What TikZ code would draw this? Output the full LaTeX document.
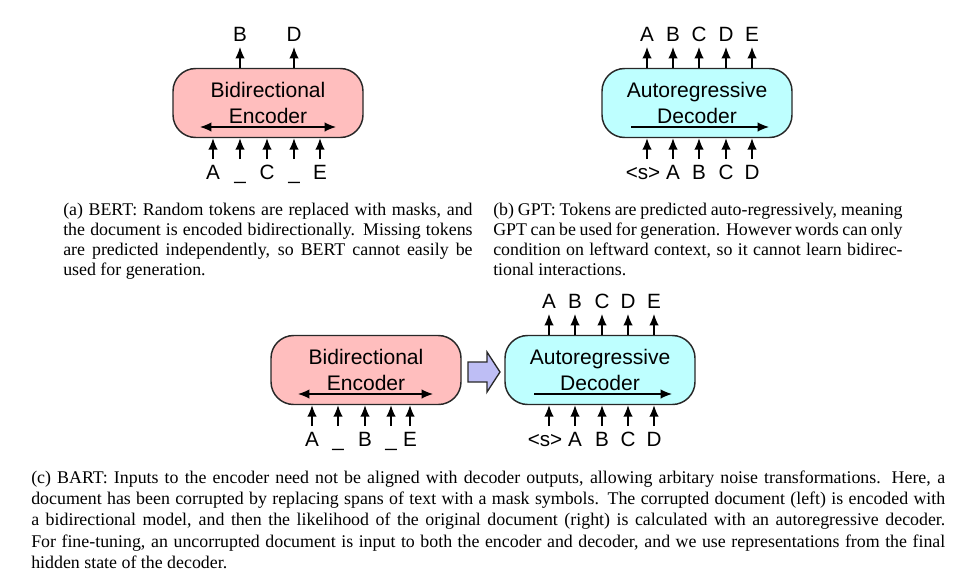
\documentclass[tikz,border=0pt]{standalone}
\usepackage{fontspec}
\setmainfont{Liberation Serif}
\setsansfont{Liberation Sans}
\usepackage{tikz}
\usetikzlibrary{arrows.meta}
\definecolor{encpink}{RGB}{255,190,190}
\definecolor{deccyan}{RGB}{190,255,255}
\definecolor{flowblue}{RGB}{190,190,245}
\definecolor{edgegray}{RGB}{40,40,40}
\tikzset{
    every edge/.style={
        draw,
        ->,>={Latex[length=8.5pt,width=7pt]},
        line width=0.9pt
    },
    block/.style={
        draw=edgegray, line width=1.1pt, rounded corners=17pt,
        minimum width=142.5pt, minimum height=51.75pt, align=center,
        font=\sffamily\fontsize{15.8}{19}\selectfont
    },
    encoder/.style={block, fill=encpink},
    decoder/.style={block, fill=deccyan},
    tok/.style={
        font=\sffamily\fontsize{15.5}{18}\selectfont,
        inner xsep=0pt, inner ysep=4pt, text height=11.1pt, text depth=0pt
    },
    caption/.style={
        inner sep=0pt, anchor=base west, text width=307pt, align=justify,
        font=\fontsize{13.4}{15}\selectfont
    },
    flow/.style={draw=edgegray, fill=flowblue, line width=1pt, line join=miter}
}

\begin{document}
\begin{tikzpicture}[x=0.75pt,y=-0.75pt]
	\useasboundingbox (0,0) rectangle (966,582);
	% (a) BERT
	\node[encoder] (bert) at (268,103) {Bidirectional\\Encoder};
	\node[tok] (bo2) at (240,34) {B};
	\node[tok] (bo4) at (294,34) {D};
	\node[tok] (bi1) at (213,172) {A};
	\node[tok] (bi2) at (240,172) {\_};
	\node[tok] (bi3) at (267,172) {C};
	\node[tok] (bi4) at (294,172) {\_};
	\node[tok] (bi5) at (320,172) {E};
	\coordinate (bertL) at ([shift={(-68,24)}]bert.center);
	\coordinate (bertR) at ([shift={(68,24)}]bert.center);
	\draw
	(bertL) edge[<->] (bertR)
	(bert.north -| bo2) edge (bo2)
	(bert.north -| bo4) edge (bo4)
	(bi1) edge (bi1 |- bert.south)
	(bi2) edge (bi2 |- bert.south)
	(bi3) edge (bi3 |- bert.south)
	(bi4) edge (bi4 |- bert.south)
	(bi5) edge (bi5 |- bert.south);
	\node[caption] (capa) at (63,215) {(a) BERT: Random tokens are replaced with masks, and\linebreak
		the document is encoded bidirectionally. Missing tokens\linebreak
		are predicted independently, so BERT cannot easily be\linebreak
		used for generation.};

	% (b) GPT
	\node[decoder] (gpt) at (697,103) {Autoregressive\\Decoder};
	\node[tok] (go1) at (647,34) {A};
	\node[tok] (go2) at (673,34) {B};
	\node[tok] (go3) at (699,34) {C};
	\node[tok] (go4) at (726,34) {D};
	\node[tok] (go5) at (752,34) {E};
	\node[tok] (gi1) at (643,172) {<s>};
	\node[tok] (gi2) at (673,172) {A};
	\node[tok] (gi3) at (699,172) {B};
	\node[tok] (gi4) at (726,172) {C};
	\node[tok] (gi5) at (752,172) {D};
	\coordinate (gptL) at ([shift={(-66,24)}]gpt.center);
	\coordinate (gptR) at ([shift={(72,24)}]gpt.center);
	\draw
	(gptL) edge (gptR)
	(gpt.north -| go1) edge (go1)
	(gpt.north -| go2) edge (go2)
	(gpt.north -| go3) edge (go3)
	(gpt.north -| go4) edge (go4)
	(gpt.north -| go5) edge (go5)
	(gi1.north -| go1) edge (go1 |- gpt.south)
	(gi2) edge (gi2 |- gpt.south)
	(gi3) edge (gi3 |- gpt.south)
	(gi4) edge (gi4 |- gpt.south)
	(gi5) edge (gi5 |- gpt.south);
	\node[caption] (capb) at (493,215) {(b) GPT: Tokens are predicted auto-regressively, meaning\linebreak
		GPT can be used for generation. However words can only\linebreak
		condition on leftward context, so it cannot learn bidirec-\linebreak
		tional interactions.};

	% (c) BART
	\node[encoder] (benc) at (366,370) {Bidirectional\\Encoder};
	\node[decoder] (bdec) at (600,370) {Autoregressive\\Decoder};
	\coordinate (pass) at (484,372);
	\draw[flow, shift={(pass)}] (-16,-10) -- (3,-10) -- (3,-20) -- (16,0)
		-- (3,20) -- (3,10) -- (-16,10) -- cycle;
	\node[tok] (ei1) at (312,439) {A};
	\node[tok] (ei2) at (338,439) {\_};
	\node[tok] (ei3) at (365,439) {B};
	\node[tok] (ei4) at (391,439) {\_};
	\node[tok] (ei5) at (410,439) {E};
	\node[tok] (do1) at (549,301) {A};
	\node[tok] (do2) at (575,301) {B};
	\node[tok] (do3) at (602,301) {C};
	\node[tok] (do4) at (628,301) {D};
	\node[tok] (do5) at (654,301) {E};
	\node[tok] (di1) at (545,439) {<s>};
	\node[tok] (di2) at (575,439) {A};
	\node[tok] (di3) at (602,439) {B};
	\node[tok] (di4) at (628,439) {C};
	\node[tok] (di5) at (654,439) {D};
	\coordinate (bencL) at ([shift={(-68,24)}]benc.center);
	\coordinate (bencR) at ([shift={(67,24)}]benc.center);
	\coordinate (bdecL) at ([shift={(-66,24)}]bdec.center);
	\coordinate (bdecR) at ([shift={(72,24)}]bdec.center);
	\draw
	(bencL) edge[<->] (bencR)
	(bdecL) edge (bdecR)
	(ei1) edge (ei1 |- benc.south)
	(ei2) edge (ei2 |- benc.south)
	(ei3) edge (ei3 |- benc.south)
	(ei4) edge (ei4 |- benc.south)
	(ei5) edge (ei5 |- benc.south)
	(bdec.north -| do1) edge (do1)
	(bdec.north -| do2) edge (do2)
	(bdec.north -| do3) edge (do3)
	(bdec.north -| do4) edge (do4)
	(bdec.north -| do5) edge (do5)
	(di1.north -| do1) edge (do1 |- bdec.south)
	(di2) edge (di2 |- bdec.south)
	(di3) edge (di3 |- bdec.south)
	(di4) edge (di4 |- bdec.south)
	(di5) edge (di5 |- bdec.south);
	\node[caption, text width=685.5pt, font=\fontsize{13.4}{16.1}\selectfont] (capc) at (31,483)
		{(c) BART: Inputs to the encoder need not be aligned with decoder outputs, allowing arbitary noise transformations.  Here, a\linebreak
		document has been corrupted by replacing spans of text with a mask symbols. The corrupted document (left) is encoded with\linebreak
		a bidirectional model, and then the likelihood of the original document (right) is calculated with an autoregressive decoder.\linebreak
		For fine-tuning, an uncorrupted document is input to both the encoder and decoder, and we use representations from the final\linebreak
		hidden state of the decoder.};
\end{tikzpicture}
\end{document}
